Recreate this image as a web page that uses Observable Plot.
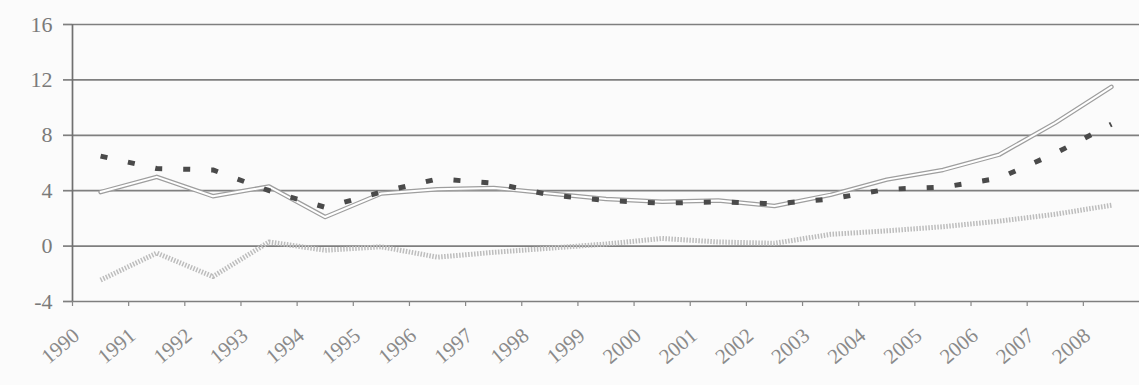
<!DOCTYPE html>
<html><head><meta charset="utf-8">
<script src="https://cdn.jsdelivr.net/npm/d3@7"></script>
<script src="https://cdn.jsdelivr.net/npm/@observablehq/plot@0.6"></script>
<style>html,body{margin:0;padding:0;background:#fbfbfb;}</style>
</head><body><div id="chart"></div>
<script>
const years = [1990,1991,1992,1993,1994,1995,1996,1997,1998,1999,2000,2001,2002,2003,2004,2005,2006,2007,2008];
const seriesA = [6.5,5.6,5.5,4.0,2.8,3.9,4.85,4.55,3.7,3.3,3.1,3.2,3.05,3.4,4.1,4.25,4.9,6.7,8.8];
const seriesB = [3.9,5.0,3.6,4.3,2.1,3.8,4.1,4.2,3.8,3.4,3.2,3.3,2.9,3.7,4.8,5.5,6.6,8.9,11.5];
const seriesC = [-2.45,-0.5,-2.2,0.3,-0.3,-0.05,-0.8,-0.45,-0.15,0.15,0.55,0.3,0.2,0.85,1.1,1.4,1.8,2.3,2.95];
const yTicks = [-4,0,4,8,12,16];
const tickBoundaries = years.map(y => y - 0.5);
const rows = vals => years.map((year, i) => ({year, value: vals[i]}));

const plot = Plot.plot({
  width: 1139, height: 385,
  marginLeft: 72, marginRight: 0, marginTop: 24, marginBottom: 84,
  style: {background: "transparent", fontFamily: "'Liberation Serif', serif"},
  x: {type: "linear", domain: [1989.5, 2008.5]},
  y: {domain: [-4, 16]},
  marks: [
    Plot.gridY(yTicks, {stroke: "#7f7f7f", strokeOpacity: 1, strokeWidth: 1.7}),
    Plot.axisY(yTicks, {tickSize: 9, tickPadding: 11, fontSize: 22, fill: "#7a7a7a", stroke: "#7f7f7f", strokeWidth: 1.7, label: null, tickFormat: d => String(d), style: {letterSpacing: "2px"}}),
    Plot.ruleX([1989.5], {stroke: "#707070", strokeWidth: 1.7}),
    Plot.axisX(tickBoundaries, {tickSize: 5, tickFormat: () => "", label: null, stroke: "#888", strokeWidth: 1.2}),
    Plot.axisX(years, {tickSize: 0, tickRotate: -40, textAnchor: "end", lineAnchor: "middle", tickFormat: d => String(d), fontSize: 21, dx: -24, dy: 19, fill: "#8a8a8a", label: null, style: {letterSpacing: "2px"}}),
    Plot.lineY(rows(seriesC), {x: "year", y: "value", stroke: "#bdbdbd", strokeWidth: 5, strokeDasharray: "1.5,1.5", strokeLinecap: "butt"}),
    Plot.lineY(rows(seriesB), {x: "year", y: "value", stroke: "#9e9e9e", strokeWidth: 4.5}),
    Plot.lineY(rows(seriesB), {x: "year", y: "value", stroke: "#ffffff", strokeWidth: 2}),
    Plot.lineY(rows(seriesA), {x: "year", y: "value", stroke: "#4a4a4a", strokeWidth: 5, strokeDasharray: "7,21", strokeLinecap: "butt"})
  ]
});
document.getElementById("chart").appendChild(plot);
</script>
</body></html>
